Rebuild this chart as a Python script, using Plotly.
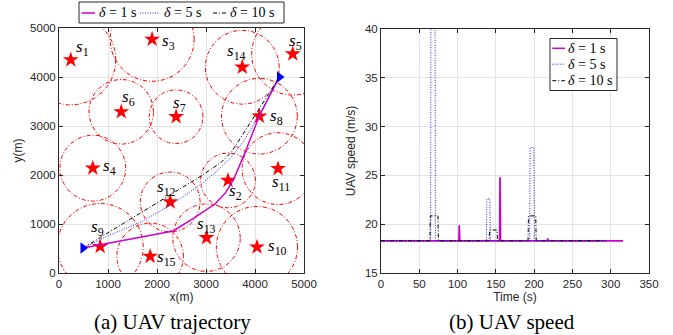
import numpy as np
import plotly.graph_objects as go

# ---------------- data: sensors ----------------
sensor_names = ["1", "2", "3", "4", "5", "6", "7", "8", "9", "10", "11", "12", "13", "14", "15"]
sensor_x = [240, 3450, 1900, 690, 4770, 1270, 2390, 4090, 840, 4040, 4470, 2270, 3010, 3740, 1860]
sensor_y = [4350, 1890, 4770, 2140, 4470, 3290, 3190, 3200, 540, 530, 2130, 1450, 720, 4200, 340]
sensor_r = [920, 560, 860, 673, 840, 660, 550, 775, 880, 830, 735, 612, 690, 755, 680]
label_x = [470, 3600, 2230, 1040, 4820, 1410, 2450, 4430, 780, 4450, 4530, 2200, 3020, 3630, 2190]
label_y = [4600, 1650, 4710, 2160, 4710, 3570, 3450, 3180, 910, 530, 1840, 1730, 980, 4510, 300]

# ---------------- data: trajectories ----------------
traj1_x = [490, 1200, 1800, 2330, 2750, 3184, 3400, 3558, 3762, 3933, 4088, 4341, 4500]
traj1_y = [510, 645, 760, 857, 1120, 1408, 1640, 1898, 2374, 2817, 3204, 3701, 4000]
traj5_x = [490, 1000, 1650, 2300, 2878, 3200, 3524, 3762, 4068, 4500]
traj5_y = [510, 760, 1030, 1400, 1796, 2060, 2374, 2680, 3190, 4000]
traj10_x = [490, 1500, 2878, 3300, 3524, 3830, 4239, 4500]
traj10_y = [510, 1130, 1966, 2250, 2476, 2953, 3598, 4000]
start_pt = [490, 510]
end_pt = [4500, 4000]

# ---------------- data: speeds ----------------
t1 = [0, 101.8, 102.2, 102.8, 155.0, 155.5, 156.1, 217.2, 217.6, 218.2, 316]
v1 = [18.3, 18.3, 19.9, 18.3, 18.3, 24.8, 18.3, 18.3, 18.55, 18.3, 18.3]
t5 = [0, 64.8, 65.3, 70.5, 71.0, 137.6, 138.2, 142.2, 142.8, 194.2, 194.8, 199.7, 200.3, 292]
v5 = [18.3, 18.3, 48, 48, 18.3, 18.3, 22.6, 22.6, 18.3, 18.3, 27.85, 27.85, 18.3, 18.3]
t10 = [0, 63.8, 64.4, 74.4, 75.0, 141.2, 141.8, 151.5, 152.1, 192.0, 192.6, 202.1, 202.7, 293]
v10 = [18.3, 18.3, 20.85, 20.85, 18.3, 18.3, 19.4, 19.4, 18.3, 18.3, 20.85, 20.85, 18.3, 18.3]

legend_labels = ["<i>δ</i> = 1 s", "<i>δ</i> = 5 s", "<i>δ</i> = 10 s"]
captions = ["(a) UAV trajectory", "(b) UAV speed"]

MAG = "#cc00cc"
BLU = "#2020ff"
BLK = "#000000"
AXC = "#262626"
GRID = "#e3e3e3"
SANS = "Liberation Sans, Arial, sans-serif"
SERIF = "Liberation Serif, Times New Roman, serif"
styles = [dict(color=MAG, width=1.5), dict(color=BLU, width=1, dash="1px,1.5px"),
          dict(color=BLK, width=1, dash="4px,2px,1px,2px")]

W, H = 673, 335


def px(xp):
    return xp / W


def py(yp):
    return (H - yp) / H


fig = go.Figure()

# circles
theta = np.linspace(0, 2 * np.pi, 241)
for cx, cy, r in zip(sensor_x, sensor_y, sensor_r):
    fig.add_trace(go.Scatter(
        x=cx + r * np.cos(theta), y=cy + r * np.sin(theta), mode="lines",
        line=dict(color="#ff0000", width=1, dash="4px,2px,1px,2px"),
        showlegend=False, hoverinfo="skip", xaxis="x", yaxis="y"))

# stars
fig.add_trace(go.Scatter(
    x=sensor_x, y=sensor_y, mode="markers",
    marker=dict(symbol="star", size=12, color="#ff0000", line=dict(width=0)),
    showlegend=False, xaxis="x", yaxis="y"))

# trajectories
for tx, ty, name, st in zip([traj1_x, traj5_x, traj10_x], [traj1_y, traj5_y, traj10_y], legend_labels, styles):
    fig.add_trace(go.Scatter(x=tx, y=ty, mode="lines", name=name, line=st,
                             showlegend=False, xaxis="x", yaxis="y"))
fig.add_trace(go.Scatter(x=[start_pt[0], end_pt[0]], y=[start_pt[1], end_pt[1]], mode="markers",
                         marker=dict(symbol="triangle-right", size=10, color="#0000ff"),
                         showlegend=False, xaxis="x", yaxis="y"))

# speeds
for tt, vv, name, st in zip([t1, t5, t10], [v1, v5, v10], legend_labels, styles):
    st2 = dict(st)
    if name == legend_labels[0]:
        st2["width"] = 1.8
    fig.add_trace(go.Scatter(x=tt, y=vv, mode="lines", name=name, line=st2,
                             showlegend=False, xaxis="x2", yaxis="y2"))

annotations = []
shapes = []
for n, lx, ly in zip(sensor_names, label_x, label_y):
    annotations.append(dict(x=lx, y=ly, xref="x", yref="y", text="<i>s</i><sub>" + n + "</sub>",
                            showarrow=False, font=dict(family=SERIF, size=17, color="#000000")))
for cap, cxp in zip(captions, [172, 512]):
    annotations.append(dict(x=px(cxp), y=py(322), xref="paper", yref="paper", xanchor="center",
                            yanchor="middle", text=cap, showarrow=False,
                            font=dict(family=SERIF, size=21, color="#000000")))

# legend (a): horizontal box above the trajectory plot
shapes.append(dict(type="rect", xref="paper", yref="paper", x0=px(79), x1=px(284), y0=py(23), y1=py(2),
                   line=dict(color=AXC, width=1), fillcolor="white", layer="above"))
leg_a_line = [(81.5, 95), (140, 160), (213, 227)]
leg_a_text = [96.5, 162, 228]
for (a, b), tx0, name, st in zip(leg_a_line, leg_a_text, legend_labels, styles):
    shapes.append(dict(type="line", xref="paper", yref="paper", x0=px(a), x1=px(b), y0=py(13), y1=py(13),
                       line=st, layer="above"))
    annotations.append(dict(x=px(tx0), y=py(13), xref="paper", yref="paper", xanchor="left", yanchor="middle",
                            text=name, showarrow=False, font=dict(family=SERIF, size=14, color="#000000")))

# legend (b): vertical box inside the speed plot
shapes.append(dict(type="rect", xref="paper", yref="paper", x0=px(550), x1=px(617), y0=py(90.5), y1=py(38.5),
                   line=dict(color=AXC, width=1), fillcolor="white", layer="above"))
for rowy, name, st in zip([48.3, 64.2, 80.7], legend_labels, styles):
    shapes.append(dict(type="line", xref="paper", yref="paper", x0=px(552.3), x1=px(565), y0=py(rowy), y1=py(rowy),
                       line=st, layer="above"))
    annotations.append(dict(x=px(566), y=py(rowy), xref="paper", yref="paper", xanchor="left", yanchor="middle",
                            text=name, showarrow=False, font=dict(family=SERIF, size=14, color="#000000")))

ax_common = dict(showgrid=True, gridcolor=GRID, gridwidth=1, showline=True, linecolor=AXC, linewidth=1,
                 mirror="ticks", ticks="inside", ticklen=4, tickcolor=AXC, zeroline=False, automargin=False,
                 tickfont=dict(family=SANS, size=11.5, color=AXC))

fig.update_layout(
    width=W, height=H, margin=dict(l=0, r=0, t=0, b=0, autoexpand=False),
    paper_bgcolor="white", plot_bgcolor="white",
    xaxis=dict(domain=[px(59), px(304)], range=[0, 5000], dtick=1000, anchor="y",
               title=dict(text="x(m)", font=dict(family=SANS, size=12, color=AXC), standoff=0), **ax_common),
    yaxis=dict(domain=[py(273), py(28)], range=[0, 5000], dtick=1000, anchor="x",
               title=dict(text="y(m)", font=dict(family=SANS, size=12, color=AXC), standoff=4), **ax_common),
    xaxis2=dict(domain=[px(381), px(649)], range=[0, 350], dtick=50, anchor="y2",
                title=dict(text="Time (s)", font=dict(family=SANS, size=12, color=AXC), standoff=0), **ax_common),
    yaxis2=dict(domain=[py(273), py(29)], range=[15, 40], dtick=5, anchor="x2",
                title=dict(text="UAV speed (m/s)", font=dict(family=SANS, size=12, color=AXC), standoff=6), **ax_common),
    annotations=annotations,
    shapes=shapes,
    showlegend=False,
)

fig.write_html("out.html", config={"displayModeBar": False},
               post_script="document.body.style.margin='0';document.body.style.overflow='hidden';")
